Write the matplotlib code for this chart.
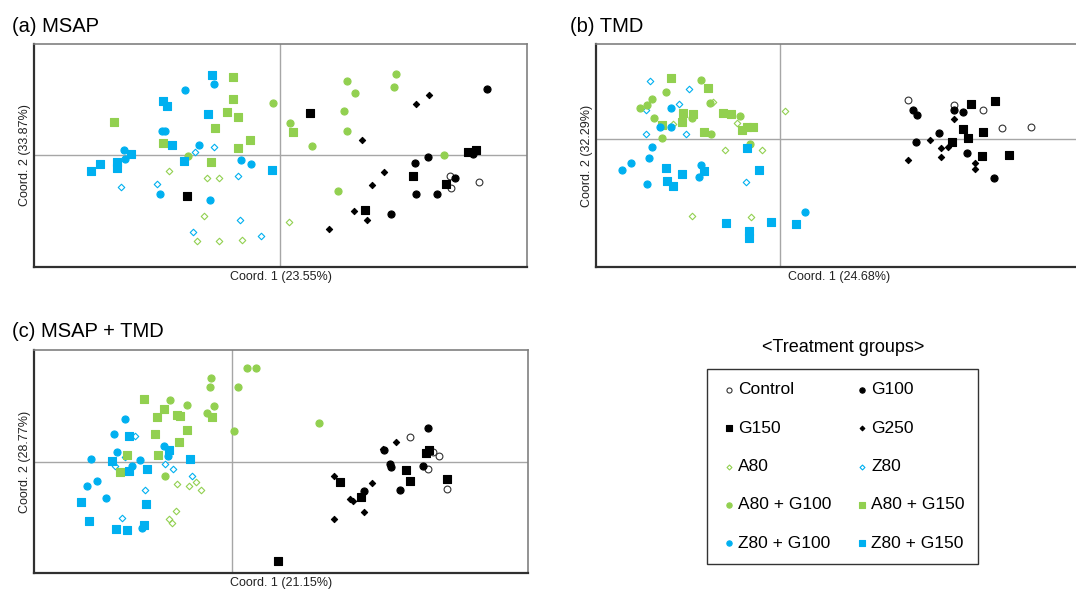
import numpy as np
import matplotlib
matplotlib.use('Agg')
import matplotlib.pyplot as plt

plt.rcParams['font.family'] = ['Liberation Sans', 'DejaVu Sans']

# PCoA scores (origin = crossing of the grey lines)
# ---------------- (a) MSAP ----------------
msap_control = [(1.70, -0.21), (1.71, -0.33), (1.99, -0.27)]
msap_g100 = [(2.07, 0.66), (1.48, -0.02), (1.35, -0.08), (1.75, -0.23), (1.36, -0.39),
             (1.57, -0.39), (1.11, -0.59), (1.93, 0.01)]
msap_g150 = [(-0.93, -0.41), (0.30, 0.42), (1.33, -0.21), (1.66, -0.29), (0.85, -0.55),
             (1.88, 0.03), (1.96, 0.05)]
msap_g250 = [(1.49, 0.60), (1.36, 0.51), (0.82, 0.15), (1.04, -0.17), (0.92, -0.30),
             (0.74, -0.56), (0.87, -0.65), (0.49, -0.74)]
msap_a80 = [(-1.11, -0.16), (-0.73, -0.23), (-0.61, -0.23), (-0.76, -0.61), (-0.83, -0.86),
            (-0.61, -0.86), (-0.38, -0.85), (0.09, -0.67)]
msap_z80 = [(-0.85, 0.03), (-0.66, 0.08), (-0.42, -0.21), (-1.59, -0.32), (-1.23, -0.29),
            (-0.40, -0.65), (-0.87, -0.77), (-0.19, -0.81)]
msap_a80_g100 = [(-0.07, 0.52), (0.10, 0.32), (-0.92, -0.01), (0.32, 0.09), (0.67, 0.74),
                 (0.75, 0.62), (0.64, 0.44), (0.67, 0.24), (1.16, 0.81), (1.14, 0.68),
                 (0.58, -0.36), (1.64, 0.00)]
msap_a80_g150 = [(-0.47, 0.78), (-0.47, 0.56), (-0.53, 0.43), (-0.42, 0.38), (-0.65, 0.27),
                 (-1.66, 0.33), (-1.17, 0.12), (-0.30, 0.15), (-0.42, 0.07), (-0.69, -0.07),
                 (0.13, 0.23)]
msap_z80_g100 = [(-0.66, 0.71), (-0.95, 0.65), (-1.18, 0.24), (-1.15, 0.24), (-0.81, 0.10),
                 (-1.56, 0.05), (-1.55, -0.04), (-0.39, -0.05), (-0.29, -0.09), (-1.20, -0.39),
                 (-0.70, -0.45)]
msap_z80_g150 = [(-0.68, 0.80), (-1.17, 0.54), (-1.13, 0.49), (-0.72, 0.41), (-1.08, 0.10),
                 (-1.49, 0.01), (-1.63, -0.07), (-1.63, -0.13), (-1.80, -0.09), (-1.89, -0.16),
                 (-0.96, -0.06), (-0.08, -0.15)]

# ---------------- (b) TMD ----------------
tmd_control = [(1.28, 0.39), (1.74, 0.34), (2.03, 0.29), (2.22, 0.11), (2.51, 0.12)]
tmd_g100 = [(1.33, 0.29), (1.37, 0.24), (1.74, 0.29), (1.83, 0.27), (1.59, 0.06),
            (1.36, -0.03), (1.87, -0.14), (2.14, -0.39)]
tmd_g150 = [(1.91, 0.35), (2.15, 0.38), (1.83, 0.10), (2.03, 0.07), (1.88, 0.01),
            (1.72, -0.03), (2.02, -0.17), (2.29, -0.16)]
tmd_g250 = [(1.74, 0.20), (1.50, -0.01), (1.61, -0.09), (1.68, -0.08), (1.61, -0.18),
            (1.28, -0.21), (1.95, -0.24), (1.95, -0.30)]
tmd_a80 = [(-0.67, 0.37), (-1.07, 0.15), (-0.43, 0.16), (-0.55, -0.11), (-0.18, -0.11),
           (-0.88, -0.77), (-0.29, -0.78), (0.05, 0.28)]
tmd_z80 = [(-1.30, 0.58), (-0.91, 0.50), (-1.01, 0.35), (-1.34, 0.29), (-1.34, 0.05),
           (-0.94, 0.05), (-0.34, -0.43)]
tmd_a80_g100 = [(-0.79, 0.59), (-1.14, 0.47), (-1.28, 0.40), (-1.33, 0.34), (-1.40, 0.31),
                (-0.70, 0.36), (-1.26, 0.21), (-0.88, 0.21), (-0.40, 0.23), (-0.69, 0.05),
                (-1.18, 0.01), (-0.30, -0.05)]
tmd_a80_g150 = [(-1.09, 0.61), (-0.72, 0.51), (-0.97, 0.26), (-0.87, 0.25), (-0.98, 0.17),
                (-0.57, 0.26), (-0.49, 0.25), (-0.76, 0.07), (-0.38, 0.09), (-0.33, 0.12),
                (-0.27, 0.12), (-1.18, 0.14)]
tmd_z80_g100 = [(-1.09, 0.31), (-1.20, 0.12), (-1.09, 0.12), (-1.28, -0.08), (-1.31, -0.19),
                (-1.49, -0.24), (-1.58, -0.31), (-1.33, -0.45), (-0.79, -0.26), (-0.81, -0.38),
                (0.25, -0.73)]
tmd_z80_g150 = [(-0.33, -0.09), (-1.14, -0.29), (-0.76, -0.32), (-0.98, -0.35), (-1.13, -0.42),
                (-1.07, -0.47), (-0.21, -0.31), (-0.54, -0.84), (-0.09, -0.83), (-0.31, -0.92),
                (-0.31, -0.99), (0.16, -0.85)]

# ---------------- (c) MSAP + TMD ----------------
both_control = [(1.78, 0.25), (2.01, 0.10), (2.07, 0.06), (1.96, -0.07), (2.15, -0.27)]
both_g100 = [(1.96, 0.34), (1.52, 0.12), (1.58, -0.02), (1.59, -0.05), (1.91, -0.04),
             (1.68, -0.28), (1.32, -0.29)]
both_g150 = [(1.94, 0.09), (1.97, 0.12), (1.74, -0.08), (1.78, -0.19), (1.08, -0.20),
             (1.29, -0.35), (2.15, -0.17), (0.46, -0.99)]
both_g250 = [(1.64, 0.20), (1.51, 0.13), (1.02, -0.14), (1.40, -0.21), (1.18, -0.37),
             (1.21, -0.39), (1.32, -0.50), (1.02, -0.57)]
both_a80 = [(-0.55, -0.22), (-0.43, -0.24), (-0.36, -0.20), (-0.31, -0.28), (-0.56, -0.49),
            (-0.63, -0.57), (-0.60, -0.61)]
both_z80 = [(-0.97, 0.26), (-1.07, 0.05), (-1.17, -0.04), (-0.67, -0.02), (-0.59, -0.07),
            (-0.40, -0.14), (-0.87, -0.28), (-1.10, -0.56)]
both_a80_g100 = [(-0.21, 0.84), (-0.22, 0.75), (0.15, 0.94), (0.24, 0.94), (0.06, 0.75),
                 (-0.62, 0.62), (-0.45, 0.57), (-0.18, 0.56), (-0.25, 0.49), (0.02, 0.31),
                 (-0.67, -0.14), (0.87, 0.39)]
both_a80_g150 = [(-0.88, 0.63), (-0.68, 0.53), (-0.75, 0.45), (-0.55, 0.47), (-0.52, 0.46),
                 (-0.20, 0.45), (-0.45, 0.32), (-0.77, 0.28), (-0.53, 0.20), (-1.05, 0.07),
                 (-0.74, 0.07), (-1.12, -0.10)]
both_z80_g100 = [(-1.07, 0.43), (-1.18, 0.28), (-1.15, 0.10), (-1.41, 0.03), (-0.68, 0.16),
                 (-0.64, 0.06), (-0.92, 0.02), (-1.00, -0.04), (-1.35, -0.19), (-1.45, -0.24),
                 (-1.26, -0.36), (-0.90, -0.66)]
both_z80_g150 = [(-1.03, 0.26), (-0.63, 0.12), (-1.20, 0.01), (-1.03, -0.09), (-0.85, -0.07),
                 (-0.42, 0.03), (-1.51, -0.40), (-0.86, -0.42), (-1.43, -0.59), (-1.16, -0.67),
                 (-1.05, -0.68), (-0.88, -0.63)]

group_names = ['Control', 'G100', 'G150', 'G250', 'A80', 'Z80',
               'A80 + G100', 'A80 + G150', 'Z80 + G100', 'Z80 + G150']

panels = [
    ('(a) MSAP', 'Coord. 1 (23.55%)', 'Coord. 2 (33.87%)',
     [msap_control, msap_g100, msap_g150, msap_g250, msap_a80, msap_z80,
      msap_a80_g100, msap_a80_g150, msap_z80_g100, msap_z80_g150]),
    ('(b) TMD', 'Coord. 1 (24.68%)', 'Coord. 2 (32.29%)',
     [tmd_control, tmd_g100, tmd_g150, tmd_g250, tmd_a80, tmd_z80,
      tmd_a80_g100, tmd_a80_g150, tmd_z80_g100, tmd_z80_g150]),
    ('(c) MSAP + TMD', 'Coord. 1 (21.15%)', 'Coord. 2 (28.77%)',
     [both_control, both_g100, both_g150, both_g250, both_a80, both_z80,
      both_a80_g100, both_a80_g150, both_z80_g100, both_z80_g150]),
]

green = '#92D050'
blue = '#00B0F0'
# marker, face, edge, size
styles = [
    ('o', 'white', '#333333', 24),
    ('o', 'black', 'black', 26),
    ('s', 'black', 'black', 26),
    ('D', 'black', 'black', 10),
    ('D', 'white', green, 11),
    ('D', 'white', blue, 11),
    ('o', green, green, 26),
    ('s', green, green, 26),
    ('o', blue, blue, 26),
    ('s', blue, blue, 26),
]

# axes boxes (pixels) and axis limits
W, H = 1076, 589
boxes = [(34, 44, 527, 267), (596, 44, 1082, 267), (34, 350, 528, 573)]
limits = [((-2.46, 2.47), (-1.12, 1.11)),
          ((-1.84, 3.02), (-1.28, 0.95)),
          ((-1.98, 2.96), (-1.11, 1.12))]
title_pos = [(12, 32), (570, 32), (12, 337)]

fig = plt.figure(figsize=(W / 100, H / 100), dpi=100)

handles = []
for k, (title, xlab, ylab, groups) in enumerate(panels):
    x0, y0, x1, y1 = boxes[k]
    ax = fig.add_axes([x0 / W, 1 - y1 / H, (x1 - x0) / W, (y1 - y0) / H])
    ax.set_xlim(*limits[k][0])
    ax.set_ylim(*limits[k][1])
    ax.axhline(0, color='#a6a6a6', lw=1.0, zorder=1)
    ax.axvline(0, color='#a6a6a6', lw=1.0, zorder=1)
    for name, pts, (m, fc, ec, s) in zip(group_names, groups, styles):
        pts = np.array(pts)
        sc = ax.scatter(pts[:, 0], pts[:, 1], marker=m, s=s, facecolor=fc,
                        edgecolor=ec, linewidths=0.8, label=name, zorder=3)
        if k == 0:
            handles.append(sc)
    ax.set_xticks([])
    ax.set_yticks([])
    ax.set_xlabel(xlab, fontsize=9, labelpad=3, color='#222222')
    ax.set_ylabel(ylab, fontsize=9, labelpad=2, color='#222222')
    for side in ['top', 'right']:
        ax.spines[side].set_color('#808080')
        ax.spines[side].set_linewidth(1.2)
    for side in ['left', 'bottom']:
        ax.spines[side].set_color('#303030')
        ax.spines[side].set_linewidth(1.6)
    tx, ty = title_pos[k]
    fig.text(tx / W, 1 - ty / H, title, fontsize=14.5, ha='left', va='baseline')

# legend, filled row by row (matplotlib fills columns, so reorder)
order = [0, 2, 4, 6, 8, 1, 3, 5, 7, 9]
fig.text(843 / W, 1 - 347 / H, '<Treatment groups>', fontsize=13, ha='center', va='center')
lx0, ly0, lx1, ly1 = 707, 369, 978, 564
leg = fig.legend(handles=[handles[i] for i in order], labels=[group_names[i] for i in order],
                 ncol=2, loc='center',
                 bbox_to_anchor=(lx0 / W, 1 - ly1 / H, (lx1 - lx0) / W, (ly1 - ly0) / H),
                 mode='expand', borderaxespad=0, fontsize=12.5, markerscale=0.75,
                 handlelength=1.0, handletextpad=0.05, borderpad=0.75, labelspacing=1.34,
                 columnspacing=1.3, fancybox=False, framealpha=1, edgecolor='#333333')
leg.get_frame().set_linewidth(1.0)

plt.savefig('out.png', dpi=100)
